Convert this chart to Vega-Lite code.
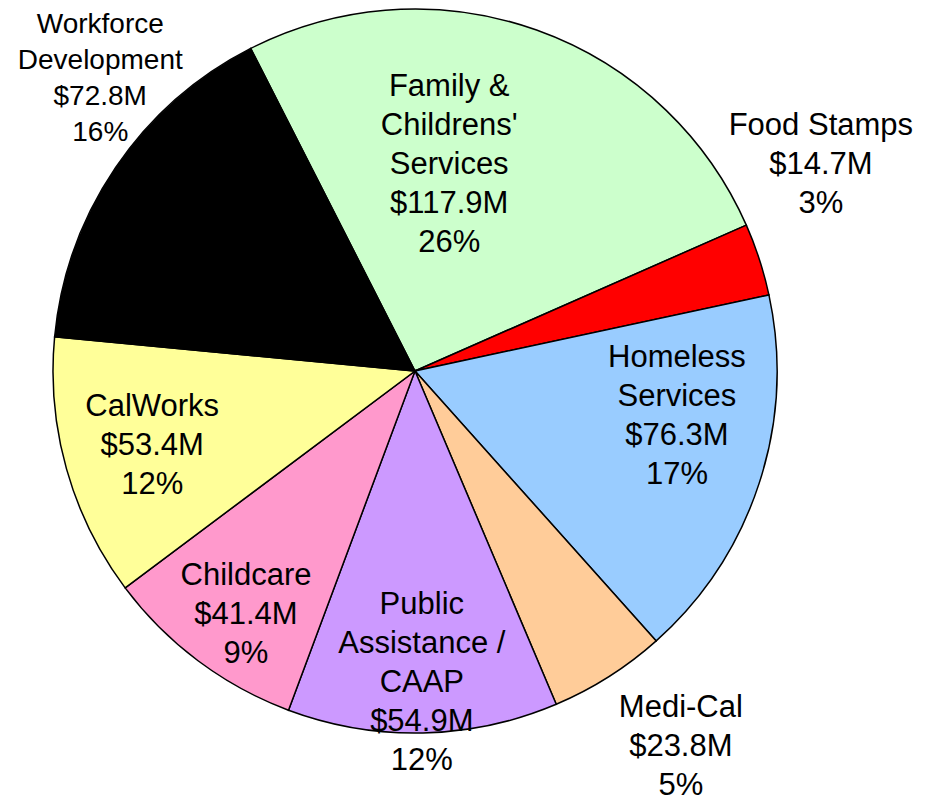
{
  "$schema": "https://vega.github.io/schema/vega-lite/v6.json",
  "width": 830,
  "height": 742,
  "autosize": {"type": "none"},
  "padding": {"left": 0, "top": 0, "right": 108, "bottom": 60},
  "background": "white",
  "config": {"view": {"stroke": null}, "text": {"font": "Liberation Sans", "color": "black"}},
  "data": {
    "values": [
      {"name": "Family & Childrens' Services", "label": "Family &\nChildrens'\nServices\n$117.9M\n26%", "value": 117.9},
      {"name": "Food Stamps", "label": "Food Stamps\n$14.7M\n3%", "value": 14.7},
      {"name": "Homeless Services", "label": "Homeless\nServices\n$76.3M\n17%", "value": 76.3},
      {"name": "Medi-Cal", "label": "Medi-Cal\n$23.8M\n5%", "value": 23.8},
      {"name": "Public Assistance / CAAP", "label": "Public\nAssistance /\nCAAP\n$54.9M\n12%", "value": 54.9},
      {"name": "Childcare", "label": "Childcare\n$41.4M\n9%", "value": 41.4},
      {"name": "CalWorks", "label": "CalWorks\n$53.4M\n12%", "value": 53.4},
      {"name": "Workforce Development", "label": "Workforce\nDevelopment\n$72.8M\n16%", "value": 72.8}
    ]
  },
  "transform": [
    {"stack": "value", "groupby": [], "as": ["v0", "v1"]},
    {"calculate": "(datum.v0 + datum.v1) / 2", "as": "mid"}
  ],
  "encoding": {
    "theta": {"field": "mid", "type": "quantitative", "scale": {"domain": [0, 455.2], "range": [-0.4712, 5.812]}}
  },
  "layer": [
    {
      "mark": {"type": "arc", "outerRadius": 362, "stroke": "black", "strokeWidth": 1.5},
      "encoding": {
        "theta": {"field": "v0", "type": "quantitative", "scale": {"domain": [0, 455.2], "range": [-0.4712, 5.812]}},
        "theta2": {"field": "v1"},
        "color": {
          "field": "name", "type": "nominal", "legend": null,
          "scale": {
            "domain": ["Family & Childrens' Services", "Food Stamps", "Homeless Services", "Medi-Cal", "Public Assistance / CAAP", "Childcare", "CalWorks", "Workforce Development"],
            "range": ["#CCFFCC", "#FF0000", "#99CCFF", "#FFCC99", "#CC99FF", "#FF99CC", "#FFFF99", "#000000"]
          }
        }
      }
    },
    {
      "transform": [{"filter": {"field": "name", "equal": "Family & Childrens' Services"}}],
      "mark": {"type": "text", "radius": 209, "dx": -36, "dy": -87, "fontSize": 31, "lineHeight": 39, "lineBreak": "\n", "baseline": "middle", "align": "center"},
      "encoding": {"text": {"field": "label", "type": "nominal"}}
    },
    {
      "transform": [{"filter": {"field": "name", "equal": "Food Stamps"}}],
      "mark": {"type": "text", "radius": 455, "dx": -27, "dy": -105, "fontSize": 31, "lineHeight": 39, "lineBreak": "\n", "baseline": "middle", "align": "center"},
      "encoding": {"text": {"field": "label", "type": "nominal"}}
    },
    {
      "transform": [{"filter": {"field": "name", "equal": "Homeless Services"}}],
      "mark": {"type": "text", "radius": 266, "dx": 9, "dy": -95.5, "fontSize": 31, "lineHeight": 39, "lineBreak": "\n", "baseline": "middle", "align": "center"},
      "encoding": {"text": {"field": "label", "type": "nominal"}}
    },
    {
      "transform": [{"filter": {"field": "name", "equal": "Medi-Cal"}}],
      "mark": {"type": "text", "radius": 461, "dx": 19, "dy": -52, "fontSize": 31, "lineHeight": 39, "lineBreak": "\n", "baseline": "middle", "align": "center"},
      "encoding": {"text": {"field": "label", "type": "nominal"}}
    },
    {
      "transform": [{"filter": {"field": "name", "equal": "Public Assistance / CAAP"}}],
      "mark": {"type": "text", "radius": 312, "dx": 0, "dy": -78, "fontSize": 31, "lineHeight": 39, "lineBreak": "\n", "baseline": "middle", "align": "center"},
      "encoding": {"text": {"field": "label", "type": "nominal"}}
    },
    {
      "transform": [{"filter": {"field": "name", "equal": "Childcare"}}],
      "mark": {"type": "text", "radius": 297, "dx": 9, "dy": -33, "fontSize": 31, "lineHeight": 39, "lineBreak": "\n", "baseline": "middle", "align": "center"},
      "encoding": {"text": {"field": "label", "type": "nominal"}}
    },
    {
      "transform": [{"filter": {"field": "name", "equal": "CalWorks"}}],
      "mark": {"type": "text", "radius": 273, "dx": 0, "dy": -38, "fontSize": 31, "lineHeight": 39, "lineBreak": "\n", "baseline": "middle", "align": "center"},
      "encoding": {"text": {"field": "label", "type": "nominal"}}
    },
    {
      "transform": [{"filter": {"field": "name", "equal": "Workforce Development"}}],
      "mark": {"type": "text", "radius": 429, "dx": 40, "dy": -105, "fontSize": 28, "lineHeight": 36, "lineBreak": "\n", "baseline": "middle", "align": "center"},
      "encoding": {"text": {"field": "label", "type": "nominal"}}
    }
  ]
}
